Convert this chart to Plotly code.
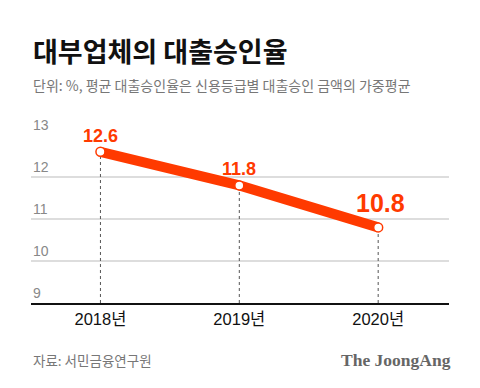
import plotly.graph_objects as go

years = ["2018년", "2019년", "2020년"]
rates = [12.6, 11.8, 10.8]
label_sizes = [18, 18, 25]
y_ticks = [9, 10, 11, 12, 13]

ORANGE = "#FF3A00"
GRAY = "#777777"
NUM_FONT = "Liberation Sans, Arial, Noto Sans CJK KR"
KR_FONT = "Noto Sans CJK KR, Liberation Sans"

fig = go.Figure()

# dotted drop lines from each point to the baseline
for yr, v in zip(years, rates):
    fig.add_trace(go.Scatter(
        x=[yr, yr], y=[y_ticks[0], v], mode="lines",
        line=dict(color="#555555", width=1, dash="dot"),
        hoverinfo="skip", showlegend=False))

fig.add_trace(go.Scatter(
    x=years, y=rates, mode="lines+markers",
    line=dict(color=ORANGE, width=10),
    marker=dict(size=9, color="white", line=dict(color=ORANGE, width=1.5)),
    showlegend=False))

for yr, v, s in zip(years, rates, label_sizes):
    fig.add_annotation(
        x=yr, y=v, text=f"<b>{v}</b>", showarrow=False,
        yshift=16 if s < 20 else 24, xshift=0 if s < 20 else 2,
        font=dict(family=NUM_FONT, size=s, color=ORANGE))

# y tick labels sitting above gridlines
for t in y_ticks:
    fig.add_annotation(
        xref="paper", x=0, y=t, xanchor="left", yanchor="middle",
        yshift=10, text=str(t), showarrow=False,
        font=dict(family=NUM_FONT, size=14, color="#888888"))

fig.update_layout(
    width=480, height=388,
    margin=dict(l=31, r=31, t=135, b=85),
    paper_bgcolor="white", plot_bgcolor="white",
    xaxis=dict(
        type="category", range=[-0.5, 2.51],
        showgrid=False, showline=True, linecolor="#111111", linewidth=1.5,
        ticks="", tickfont=dict(family=NUM_FONT, size=16.5, color="#111111"),
        fixedrange=True),
    yaxis=dict(
        range=[9, 13], tickvals=y_ticks, showgrid=True, showticklabels=False,
        gridcolor="#DDDDDD", gridwidth=1.5, zeroline=False, ticks="",
        fixedrange=True),
    font=dict(family=KR_FONT),
)

fig.add_annotation(
    xref="paper", yref="paper", x=0, y=1, xanchor="left", yanchor="middle",
    yshift=85, text="<b>대부업체의 대출승인율</b>", showarrow=False,
    font=dict(family=KR_FONT, size=27, color="#111111"))
fig.add_annotation(
    xref="paper", yref="paper", x=0, y=1, xanchor="left", yanchor="middle",
    yshift=50, text="단위: %, 평균 대출승인율은 신용등급별 대출승인 금액의 가중평균", showarrow=False,
    font=dict(family=KR_FONT, size=14, color=GRAY))
fig.add_annotation(
    xref="paper", yref="paper", x=0, y=0, xanchor="left", yanchor="middle",
    yshift=-57, text="자료: 서민금융연구원", showarrow=False,
    font=dict(family=KR_FONT, size=13.5, color=GRAY))
fig.add_annotation(
    xref="paper", yref="paper", x=1, y=0, xanchor="right", yanchor="middle",
    xshift=4, yshift=-57, text="<b>The JoongAng</b>", showarrow=False,
    font=dict(family="Liberation Serif, DejaVu Serif", size=17.5, color="#666666"))

fig.write_html("out.html", post_script="document.body.style.margin='0';",
               config={"displayModeBar": False})
